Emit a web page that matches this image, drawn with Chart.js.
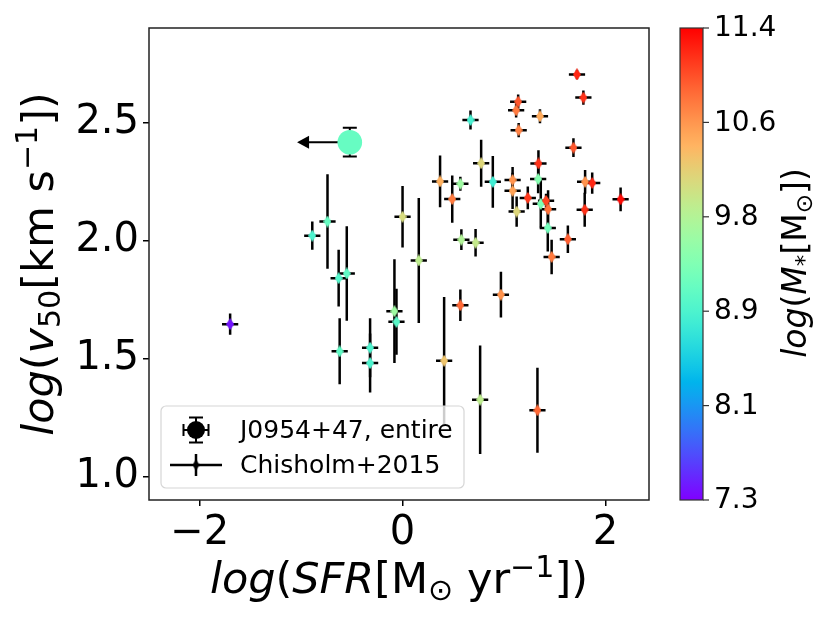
<!DOCTYPE html>
<html>
<head>
<meta charset="utf-8">
<title>v50 vs SFR</title>
<script src="https://cdn.jsdelivr.net/npm/chart.js@4.4.0/dist/chart.umd.min.js"></script>
<style>
  html, body { margin: 0; padding: 0; background: #fff; }
  canvas { display: block; }
</style>
</head>
<body>
<canvas id="chart" width="830" height="623"></canvas>
<script>
// Chisholm+2015 sample: log SFR, log v50, errors and log stellar mass (colour)
const sfr = [-1.70, -0.89, -0.74, -0.63, -0.55, -0.62, -0.32, -0.32, -0.08, -0.06,
  0.00, 0.16, 0.37, 0.41, 0.49, 0.57, 0.57, 0.58, 0.67, 0.72,
  0.765, 0.775, 0.89, 0.97, 1.085, 1.085, 1.12, 1.125, 1.14, 1.145,
  1.235, 1.33, 1.34, 1.337, 1.355, 1.363, 1.415, 1.435, 1.432, 1.47,
  1.63, 1.685, 1.72, 1.783, 1.796, 1.80, 1.87, 2.15];
const v50 = [1.645, 2.02, 2.08, 1.84, 1.86, 1.53, 1.545, 1.48, 1.70, 1.655,
  2.10, 1.915, 2.25, 1.49, 2.175, 1.725, 2.24, 2.003, 2.51, 1.99,
  1.325, 2.327, 2.248, 1.77, 2.256, 2.21, 2.551, 2.122, 2.588, 2.467,
  2.18, 1.28, 2.326, 2.26, 2.526, 2.155, 2.168, 2.132, 2.053, 1.93,
  2.005, 2.393, 2.703, 2.605, 2.13, 2.248, 2.243, 2.174];
const sfrErr = [0.08, 0.08, 0.08, 0.08, 0.08, 0.08, 0.08, 0.08, 0.08, 0.08,
  0.08, 0.08, 0.08, 0.08, 0.08, 0.08, 0.08, 0.08, 0.08, 0.08,
  0.08, 0.08, 0.08, 0.08, 0.08, 0.08, 0.08, 0.08, 0.08, 0.08,
  0.08, 0.08, 0.08, 0.08, 0.08, 0.08, 0.08, 0.08, 0.08, 0.08,
  0.08, 0.08, 0.08, 0.08, 0.08, 0.08, 0.08, 0.08];
const v50Err = [0.045, 0.06, 0.20, 0.12, 0.20, 0.14, 0.125, 0.125, 0.22, 0.14,
  0.13, 0.265, 0.11, 0.27, 0.10, 0.067, 0.03, 0.044, 0.04, 0.058,
  0.23, 0.10, 0.11, 0.097, 0.055, 0.077, 0.03, 0.064, 0.03, 0.03,
  0.048, 0.18, 0.056, 0.06, 0.03, 0.10, 0.03, 0.08, 0.10, 0.073,
  0.058, 0.04, 0.02, 0.03, 0.072, 0.05, 0.045, 0.05];
const logMass = [7.4, 8.95, 9.15, 9.0, 9.1, 9.1, 8.95, 8.95, 9.6, 9.05,
  10.05, 9.85, 10.4, 10.25, 10.75, 10.85, 9.6, 9.75, 8.9, 9.9,
  9.85, 10.1, 8.85, 10.6, 10.6, 10.5, 10.75, 10.1, 10.95, 10.7,
  11.1, 10.85, 11.15, 9.4, 10.45, 9.35, 11.05, 10.8, 9.25, 10.75,
  10.9, 10.95, 11.2, 11.15, 11.15, 10.6, 11.2, 11.35];

// J0954+47 (entire): SFR is an upper limit (arrow)
const jSfr = [-0.52];
const jV50 = [2.416];
const jV50Err = [0.061];
const jSfrLimitTip = [-1.04];
const jMass = [9.15];

// axes
const xTicks = [-2, 0, 2];
const yTicks = [1.0, 1.5, 2.0, 2.5];
const massRange = [7.3, 11.4];
const cbarTicks = [7.3, 8.12, 8.94, 9.76, 10.58, 11.4];
const cbarLabels = ['7.3', '8.1', '8.9', '9.8', '10.6', '11.4'];

const FONT = '"DejaVu Sans", sans-serif';

// matplotlib "rainbow" colormap
function rainbow(t) {
  const c = (v) => Math.round(Math.min(1, Math.max(0, v)) * 255);
  return `rgb(${c(Math.abs(2 * t - 0.5))},${c(Math.sin(Math.PI * t))},${c(Math.cos(Math.PI * t / 2))})`;
}
function massColour(m) {
  return rainbow((m - massRange[0]) / (massRange[1] - massRange[0]));
}

// thin diamond marker as a small canvas
function diamond(colour, w = 8, h = 12) {
  const c = document.createElement('canvas');
  c.width = w; c.height = h;
  const g = c.getContext('2d');
  g.fillStyle = colour;
  g.beginPath();
  g.moveTo(w / 2, 0); g.lineTo(w, h / 2); g.lineTo(w / 2, h); g.lineTo(0, h / 2);
  g.closePath();
  g.fill();
  return c;
}

// draw a mathtext-like label, centred on (x, y) baseline
function drawMath(ctx, parts, size, x, y, angle = 0) {
  const fontOf = (p) => `${p.it ? 'italic ' : ''}${(p.sub || p.sup) ? size * 0.7 : size}px ${FONT}`;
  let total = 0;
  parts.forEach((p) => { ctx.font = fontOf(p); p.w = ctx.measureText(p.t).width; total += p.w; });
  ctx.save();
  ctx.translate(x, y);
  ctx.rotate(angle);
  ctx.fillStyle = '#000';
  ctx.textBaseline = 'alphabetic';
  ctx.textAlign = 'left';
  let cx = -total / 2;
  parts.forEach((p) => {
    ctx.font = fontOf(p);
    let dy = 0;
    if (p.sup) dy = -0.38 * size;
    if (p.sub) dy = 0.17 * size;
    ctx.fillText(p.t, cx, dy);
    cx += p.w;
  });
  ctx.restore();
}

const errorBars = {
  id: 'errorBars',
  beforeDatasetsDraw(chart) {
    const { ctx, scales: { x, y } } = chart;
    ctx.save();
    ctx.strokeStyle = '#000';
    ctx.lineWidth = 2.5;
    sfr.forEach((s, i) => {
      const px = x.getPixelForValue(s);
      const py = y.getPixelForValue(v50[i]);
      ctx.beginPath();
      ctx.moveTo(x.getPixelForValue(s - sfrErr[i]), py);
      ctx.lineTo(x.getPixelForValue(s + sfrErr[i]), py);
      ctx.moveTo(px, y.getPixelForValue(v50[i] - v50Err[i]));
      ctx.lineTo(px, y.getPixelForValue(v50[i] + v50Err[i]));
      ctx.stroke();
    });

    // J0954+47: v50 error with caps and an upper-limit arrow on SFR
    const jx = x.getPixelForValue(jSfr[0]);
    const jy = y.getPixelForValue(jV50[0]);
    const top = y.getPixelForValue(jV50[0] + jV50Err[0]);
    const bot = y.getPixelForValue(jV50[0] - jV50Err[0]);
    ctx.lineWidth = 2;
    ctx.beginPath();
    ctx.moveTo(jx, top); ctx.lineTo(jx, bot);
    ctx.moveTo(jx - 7, top); ctx.lineTo(jx + 7, top);
    ctx.moveTo(jx - 7, bot); ctx.lineTo(jx + 7, bot);
    const tip = x.getPixelForValue(jSfrLimitTip[0]);
    ctx.moveTo(jx, jy); ctx.lineTo(tip + 10, jy);
    ctx.stroke();
    ctx.fillStyle = '#000';
    ctx.beginPath();
    ctx.moveTo(tip, jy); ctx.lineTo(tip + 12, jy - 6.5); ctx.lineTo(tip + 12, jy + 6.5);
    ctx.closePath();
    ctx.fill();
    ctx.restore();
  },
};

const decorations = {
  id: 'decorations',
  afterDraw(chart) {
    const { ctx, chartArea: a } = chart;
    ctx.save();

    // frame
    ctx.strokeStyle = '#222';
    ctx.lineWidth = 1.5;
    ctx.strokeRect(a.left, a.top, a.right - a.left, a.bottom - a.top);

    // legend
    const lx = 161, ly = 406, lw = 303, lh = 82;
    ctx.fillStyle = 'rgba(255,255,255,0.8)';
    ctx.strokeStyle = '#d6d6d6';
    ctx.lineWidth = 1.2;
    ctx.beginPath();
    ctx.roundRect(lx, ly, lw, lh, 5);
    ctx.fill();
    ctx.stroke();

    ctx.strokeStyle = '#000';
    ctx.fillStyle = '#000';
    ctx.lineWidth = 2;
    const sx = 196, r1 = 430, r2 = 465;
    ctx.beginPath();
    ctx.moveTo(sx, r1 - 12.5); ctx.lineTo(sx, r1 + 12.5);
    ctx.moveTo(sx - 7, r1 - 12.5); ctx.lineTo(sx + 7, r1 - 12.5);
    ctx.moveTo(sx - 7, r1 + 12.5); ctx.lineTo(sx + 7, r1 + 12.5);
    ctx.moveTo(sx - 12.5, r1); ctx.lineTo(sx + 12.5, r1);
    ctx.moveTo(sx - 12.5, r1 - 6); ctx.lineTo(sx - 12.5, r1 + 6);
    ctx.moveTo(sx + 12.5, r1 - 6); ctx.lineTo(sx + 12.5, r1 + 6);
    ctx.stroke();
    ctx.beginPath();
    ctx.arc(sx, r1, 9, 0, Math.PI * 2);
    ctx.fill();

    ctx.lineWidth = 2.5;
    ctx.beginPath();
    ctx.moveTo(170, r2); ctx.lineTo(222, r2);
    ctx.moveTo(sx, r2 - 11); ctx.lineTo(sx, r2 + 11);
    ctx.stroke();
    ctx.drawImage(diamond('#000', 7, 11), sx - 3.5, r2 - 5.5);

    ctx.font = `25px ${FONT}`;
    ctx.textBaseline = 'middle';
    ctx.textAlign = 'left';
    ctx.fillText('J0954+47, entire', 240, r1 + 1);
    ctx.fillText('Chisholm+2015', 240, r2 + 1);

    // colour bar
    const cx0 = 680, cx1 = 703, cy0 = a.top, cy1 = a.bottom;
    const grad = ctx.createLinearGradient(0, cy1, 0, cy0);
    for (let i = 0; i <= 40; i++) grad.addColorStop(i / 40, rainbow(i / 40));
    ctx.fillStyle = grad;
    ctx.fillRect(cx0, cy0, cx1 - cx0, cy1 - cy0);
    ctx.strokeStyle = '#333';
    ctx.lineWidth = 1.2;
    ctx.strokeRect(cx0, cy0, cx1 - cx0, cy1 - cy0);
    ctx.fillStyle = '#000';
    ctx.font = `28px ${FONT}`;
    ctx.textBaseline = 'middle';
    cbarTicks.forEach((m, i) => {
      const py = cy1 - (m - massRange[0]) / (massRange[1] - massRange[0]) * (cy1 - cy0);
      ctx.beginPath();
      ctx.moveTo(cx1, py); ctx.lineTo(cx1 + 6, py);
      ctx.stroke();
      ctx.fillText(cbarLabels[i], 714, py + 1);
    });

    // axis labels
    drawMath(ctx, [
      { t: 'log', it: true }, { t: '(' }, { t: 'SFR', it: true }, { t: '[' }, { t: 'M' },
      { t: '\u2299', sub: true }, { t: ' yr' }, { t: '\u22121', sup: true }, { t: '])' },
    ], 43, (a.left + a.right) / 2, 593);
    drawMath(ctx, [
      { t: 'log', it: true }, { t: '(' }, { t: 'v', it: true }, { t: '50', sub: true },
      { t: '[km s' }, { t: '\u22121', sup: true }, { t: '])' },
    ], 43, 53, (a.top + a.bottom) / 2, -Math.PI / 2);
    drawMath(ctx, [
      { t: 'log', it: true }, { t: '(' }, { t: 'M', it: true }, { t: '*', sub: true },
      { t: '[M' }, { t: '\u2299', sub: true }, { t: '])' },
    ], 33, 806, 263, -Math.PI / 2);

    ctx.restore();
  },
};

const ctx = document.getElementById('chart').getContext('2d');
new Chart(ctx, {
  type: 'scatter',
  data: {
    datasets: [
      {
        label: 'Chisholm+2015',
        data: sfr.map((s, i) => ({ x: s, y: v50[i] })),
        pointStyle: logMass.map((m) => diamond(massColour(m))),
        pointRadius: 6,
      },
      {
        label: 'J0954+47, entire',
        data: jSfr.map((s, i) => ({ x: s, y: jV50[i] })),
        backgroundColor: jMass.map(massColour),
        borderWidth: 0,
        pointRadius: 12.3,
      },
    ],
  },
  options: {
    responsive: false,
    animation: false,
    events: [],
    layout: { padding: { top: 26, right: 181, left: 0, bottom: 0 } },
    plugins: {
      legend: { display: false },
      tooltip: { enabled: false },
    },
    scales: {
      x: {
        type: 'linear',
        min: -2.5,
        max: 2.43,
        afterFit(scale) { scale.height = 123; },
        afterBuildTicks(scale) { scale.ticks = xTicks.map((v) => ({ value: v })); },
        border: { display: false },
        grid: { drawOnChartArea: false, drawTicks: true, tickLength: 6, color: '#000', lineWidth: 1.5 },
        ticks: {
          color: '#000',
          padding: 4,
          font: { family: FONT, size: 40 },
          callback: (v) => String(v).replace('-', '\u2212'),
        },
      },
      y: {
        type: 'linear',
        min: 0.9,
        max: 2.9,
        afterFit(scale) { scale.width = 149; },
        afterBuildTicks(scale) { scale.ticks = yTicks.map((v) => ({ value: v })); },
        border: { display: false },
        grid: { drawOnChartArea: false, drawTicks: true, tickLength: 6, color: '#000', lineWidth: 1.5 },
        ticks: {
          color: '#000',
          padding: 4,
          font: { family: FONT, size: 40 },
          callback: (v) => v.toFixed(1),
        },
      },
    },
  },
  plugins: [errorBars, decorations],
});
</script>
</body>
</html>
